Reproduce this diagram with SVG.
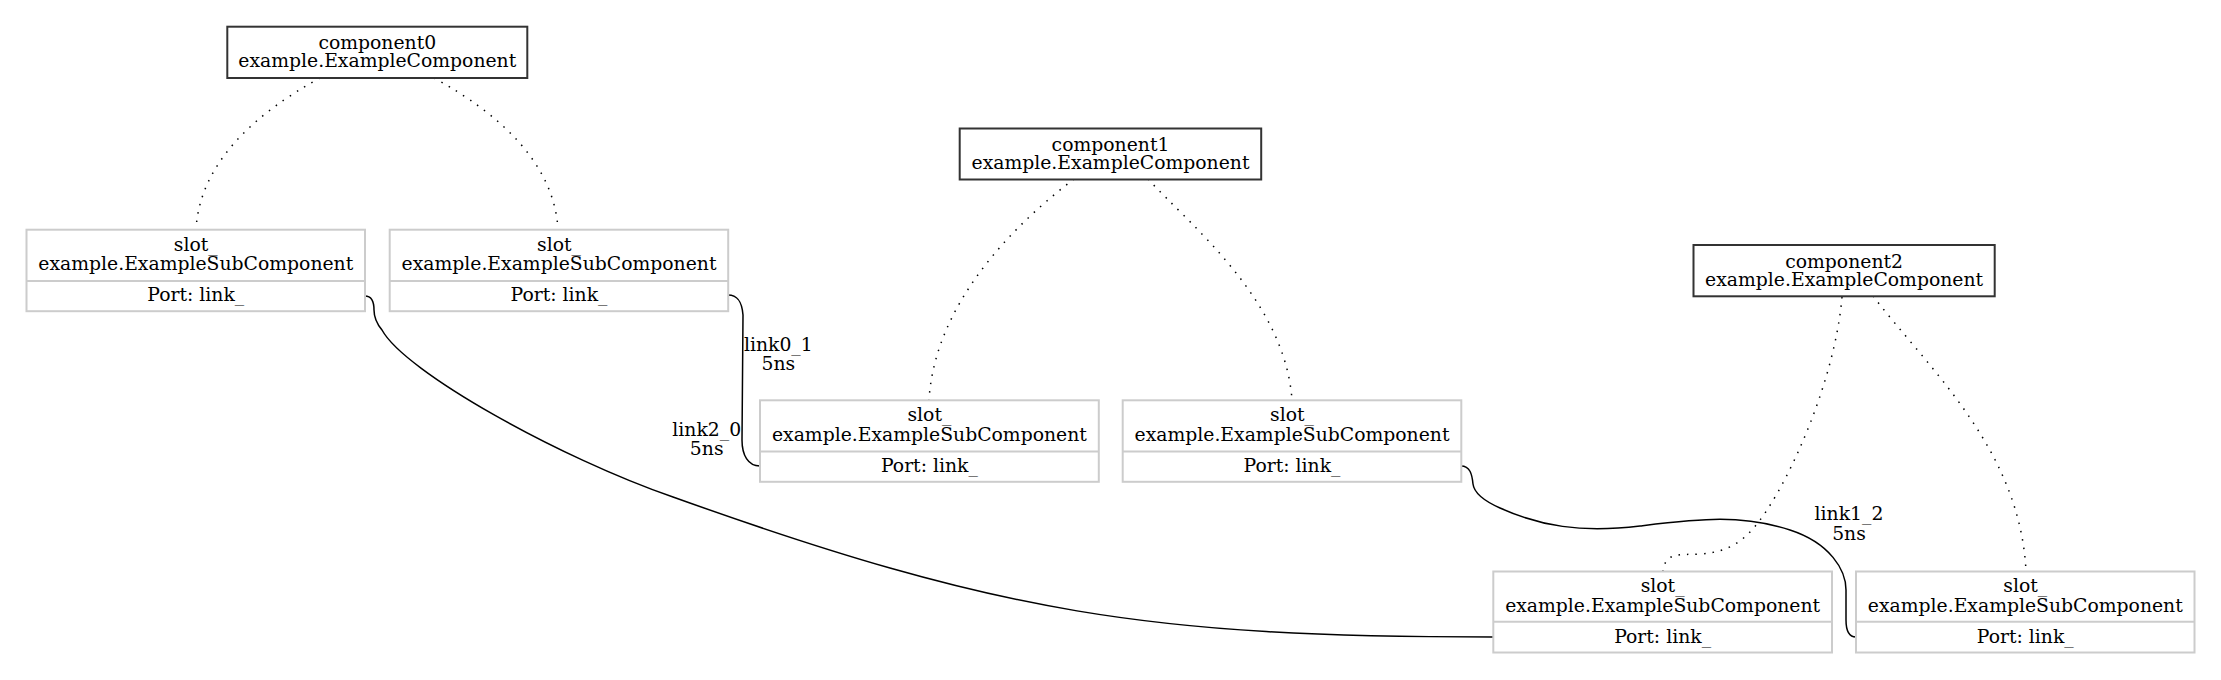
<svg xmlns="http://www.w3.org/2000/svg" width="2221" height="680" viewBox="0 0 2221 680">
<style>
text{font-family:"DejaVu Serif","Liberation Serif",serif;font-size:18.8px;fill:#000;text-anchor:middle}
.comp{fill:#fff;stroke:#333;stroke-width:2}
.slot{fill:#fff;stroke:#ccc;stroke-width:2}
.div{stroke:#ccc;stroke-width:2}
.link{fill:none;stroke:#000;stroke-width:1.5}
.dot{fill:none;stroke:#000;stroke-width:1.5;stroke-dasharray:1.5 7}
</style>
<rect width="2221" height="680" fill="#fff"/>
<g id="connectors">
<path class="dot" d="M320,78 C280,100 200,150 196,230"/>
<path class="dot" d="M434,78 C474,100 554,150 558,230"/>
<path class="dot" d="M1074,179 C1020,220 935,300 929,400"/>
<path class="dot" d="M1148,179 C1190,225 1285,300 1292,400"/>
<path class="dot" d="M1842,297 C1835,380 1790,480 1760,520 C1745,540 1730,552 1700,554 C1680,555 1665,552 1663,571"/>
<path class="dot" d="M1873,296 C1930,370 2020,450 2026,571"/>
<path class="link" d="M728,295 C738,295 742,302 743,315 L742,440 C742,455 748,466 760,466"/>
<path class="link" d="M365,296 C372,296 374,302 374,310 C374,318 377,324 382,330 C405,372 560,458 673,497 C1000,614 1150,637 1493,637"/>
<path class="link" d="M1461,466 C1470,466 1472,474 1473,484 C1474,492 1482,500 1500,508 C1540,526 1580,533 1640,526 C1700,519 1740,514 1790,530 C1830,543 1846,570 1846,590 L1846,620 C1846,632 1850,637 1856,637"/>
<text x="778.3" y="350.5">link0_1</text>
<text x="778.3" y="370">5ns</text>
<text x="706.7" y="436">link2_0</text>
<text x="706.7" y="455">5ns</text>
<text x="1849" y="520">link1_2</text>
<text x="1849" y="540">5ns</text>
</g>
<g id="component0">
<rect class="comp" x="227.3" y="26.7" width="300" height="51.3"/>
<text x="377.3" y="49.3">component0</text>
<text x="377.3" y="67.3">example.ExampleComponent</text>
</g>
<g id="component1">
<rect class="comp" x="959.7" y="128.5" width="301.5" height="51"/>
<text x="1110.5" y="151">component1</text>
<text x="1110.5" y="169">example.ExampleComponent</text>
</g>
<g id="component2">
<rect class="comp" x="1693.5" y="245" width="301.2" height="51.3"/>
<text x="1844.1" y="267.5">component2</text>
<text x="1844.1" y="285.5">example.ExampleComponent</text>
</g>
<g id="slot0a">
<rect class="slot" x="26.5" y="229.7" width="338.5" height="81.5"/>
<line class="div" x1="26.5" y1="281" x2="365" y2="281"/>
<text x="195.8" y="250.5">slot_</text>
<text x="195.8" y="270">example.ExampleSubComponent</text>
<text x="195.8" y="301">Port: link_</text>
</g>
<g id="slot0b">
<rect class="slot" x="389.7" y="229.7" width="338.5" height="81.5"/>
<line class="div" x1="389.7" y1="281" x2="728.2" y2="281"/>
<text x="559" y="250.5">slot_</text>
<text x="559" y="270">example.ExampleSubComponent</text>
<text x="559" y="301">Port: link_</text>
</g>
<g id="slot1a">
<rect class="slot" x="760" y="400.3" width="338.8" height="81.5"/>
<line class="div" x1="760" y1="451.5" x2="1098.8" y2="451.5"/>
<text x="929.4" y="421">slot_</text>
<text x="929.4" y="440.5">example.ExampleSubComponent</text>
<text x="929.4" y="471.5">Port: link_</text>
</g>
<g id="slot1b">
<rect class="slot" x="1122.7" y="400.3" width="338.6" height="81.5"/>
<line class="div" x1="1122.7" y1="451.5" x2="1461.3" y2="451.5"/>
<text x="1292" y="421">slot_</text>
<text x="1292" y="440.5">example.ExampleSubComponent</text>
<text x="1292" y="471.5">Port: link_</text>
</g>
<g id="slot2a">
<rect class="slot" x="1493.3" y="571.5" width="338.7" height="81"/>
<line class="div" x1="1493.3" y1="621.7" x2="1832" y2="621.7"/>
<text x="1662.6" y="592">slot_</text>
<text x="1662.6" y="611.5">example.ExampleSubComponent</text>
<text x="1662.6" y="642.5">Port: link_</text>
</g>
<g id="slot2b">
<rect class="slot" x="1856" y="571.5" width="338.5" height="81"/>
<line class="div" x1="1856" y1="621.7" x2="2194.5" y2="621.7"/>
<text x="2025.3" y="592">slot_</text>
<text x="2025.3" y="611.5">example.ExampleSubComponent</text>
<text x="2025.3" y="642.5">Port: link_</text>
</g>
</svg>
